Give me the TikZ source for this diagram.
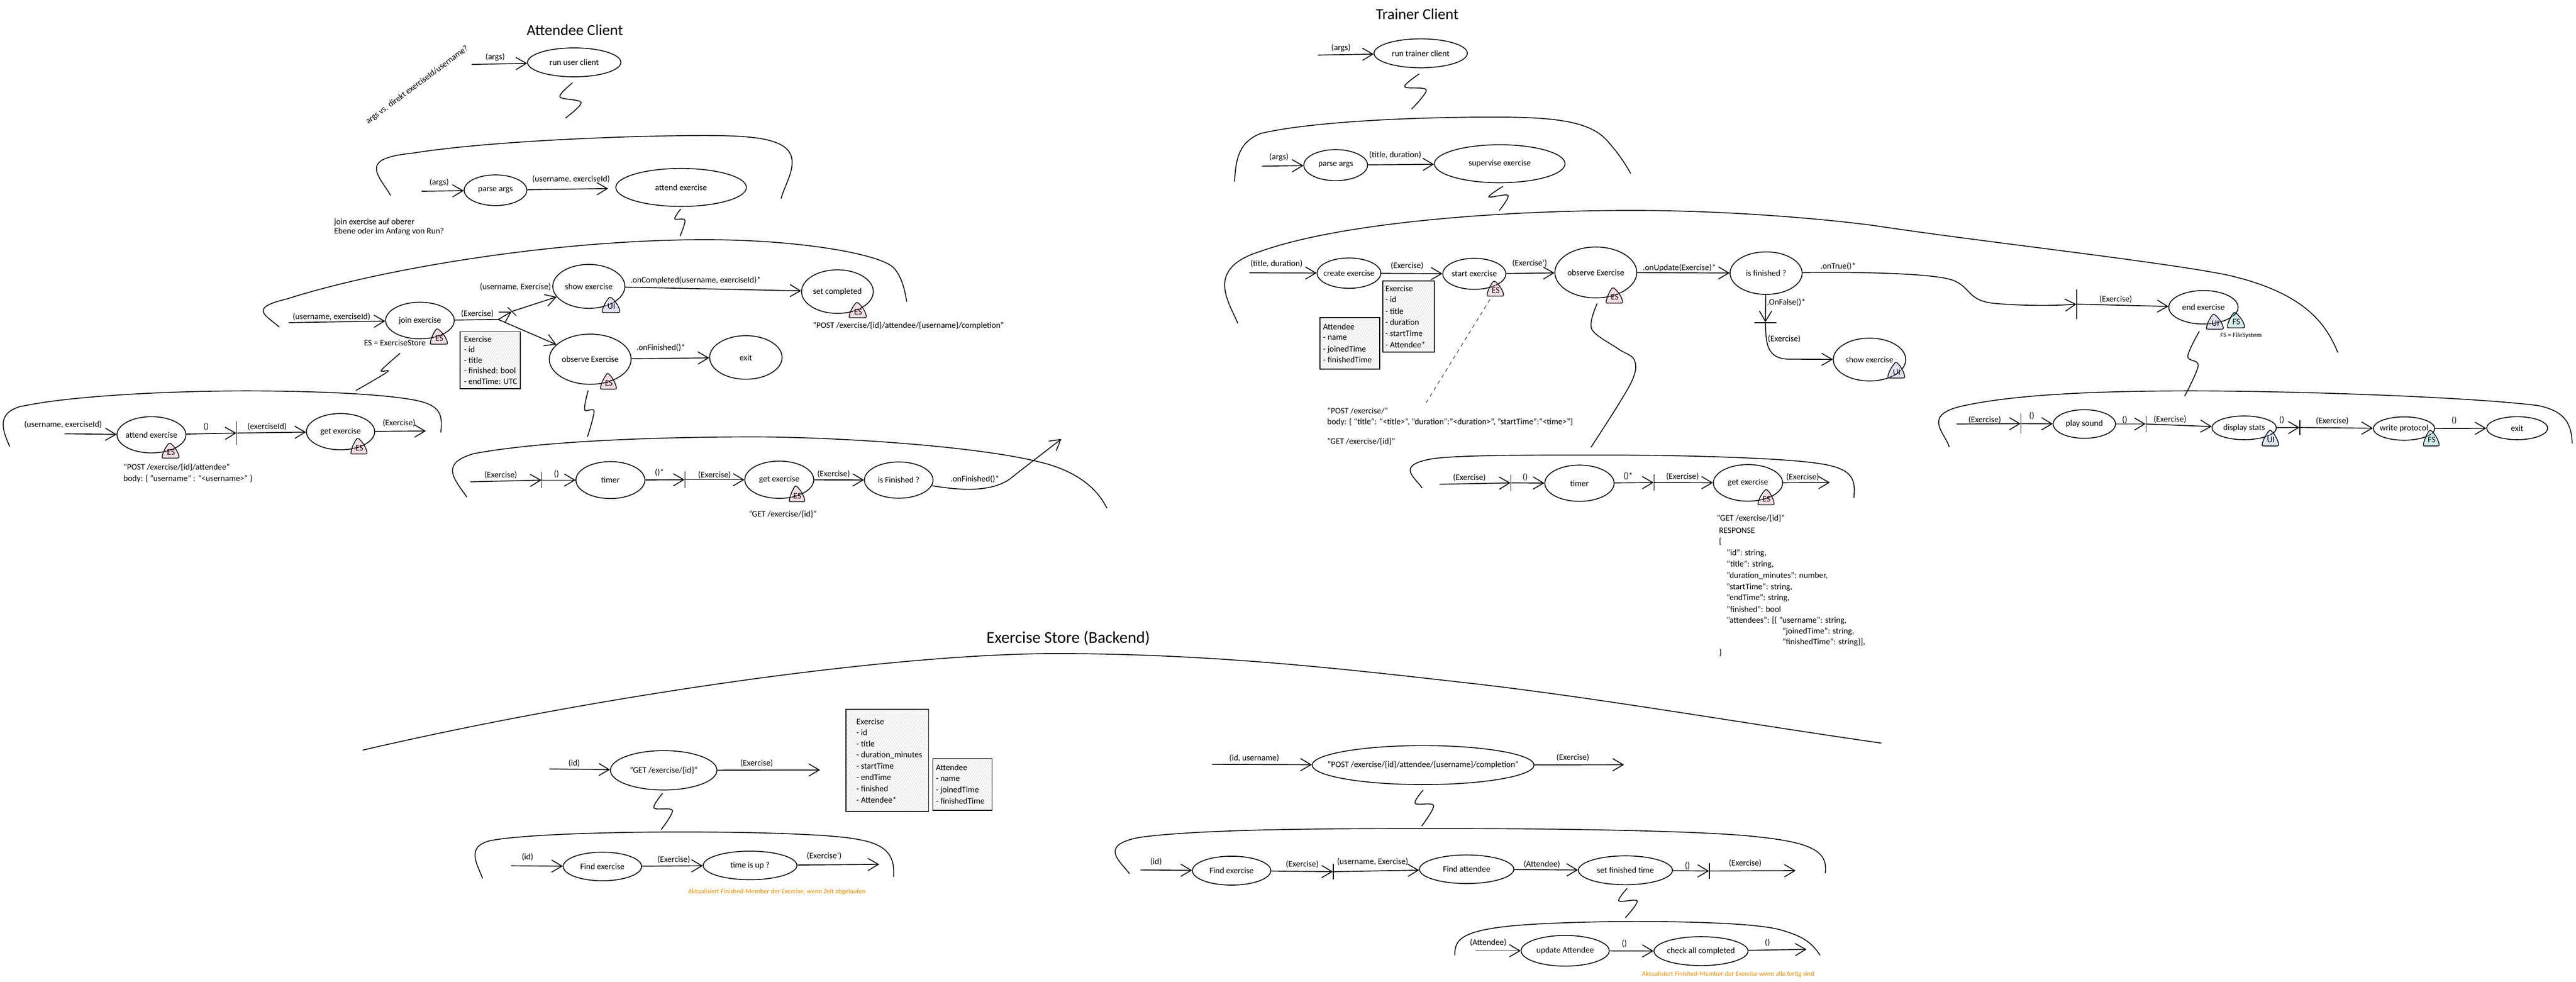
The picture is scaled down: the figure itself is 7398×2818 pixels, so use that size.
\documentclass[tikz,border=0pt]{standalone}
\usepackage{fontspec}
\setmainfont{Carlito}
\usetikzlibrary{arrows.meta,shapes.geometric,patterns.meta}
\definecolor{esd}{HTML}{F2A0B4}
\definecolor{uid}{HTML}{A0B2F0}
\definecolor{fsd}{HTML}{78D6D4}
\definecolor{bxd}{HTML}{DADDE2}
\definecolor{orng}{HTML}{F08C00}
\tikzset{
 ovl/.style={draw,ellipse,inner sep=0pt,line width=.7pt,font=\fontsize{6.9}{9}\selectfont},
 txt/.style={inner sep=0pt,font=\fontsize{6.9}{9}\selectfont},
 arr/.style={-{Straight Barb[length=8.5pt,width=10pt]},line width=.7pt},
 cv/.style={line width=.7pt},
 barn/.style={draw,rectangle,inner sep=0pt,minimum width=0pt,line width=.6pt},
 boxs/.style={draw,line width=.7pt,pattern={Lines[angle=60,distance=1.7pt,line width=.4pt]},pattern color=bxd},
}
\newcounter{lbn}
\newcommand{\myov}[6]{\node[ovl,minimum width=#4*0.01cm,minimum height=#5*0.01cm] (#1) at (#2,#3) {\makebox[0pt][c]{#6}};}
\newcommand{\mytc}[3]{\stepcounter{lbn}\node[txt] (lb\arabic{lbn}) at (#1,#2) {#3};}
\newcommand{\mytl}[3]{\stepcounter{lbn}\node[txt,anchor=west] (lb\arabic{lbn}) at (#1,#2) {#3};}
\newcommand{\myco}[3]{\coordinate (#1) at (#2,#3);}
\newcommand{\myar}[3][]{\draw[arr,#1] (#2) -- (#3);}
\newcommand{\mybar}[4]{\node[barn,minimum height=#4*0.01cm] (#1) at (#2,#3) {};}
\newcommand{\mycv}[1]{\draw[cv] plot[smooth,tension=.55] coordinates {#1};}
\newcommand{\mytag}[8]{\draw[line width=.6pt,pattern={Lines[angle=60,distance=1.7pt,line width=.45pt]},pattern color=#7d]
 (#2,#3) .. controls ({#2+6},#3) and ({#5-3},{#6-22}) .. (#5,{#6-5}) .. controls ({#5+1},#6) and ({#5-3},#6) .. ({#5-6},#6) -- ({#4+5},#6) .. controls ({#4-2},#6) and (#4,{#6-2}) .. (#4,{#6-6}) .. controls ({#4+3},{#6-22}) and ({#2-4},#3) .. (#2,#3);
 \node[txt] (#1) at ({(#4+#5)/2+1},{#6-17}) {#8};}
\begin{document}
\begin{tikzpicture}[x=0.01cm,y=-0.01cm]
\useasboundingbox (0,0) rectangle (7398,2818);
% ===== titles
\node[txt,font=\fontsize{12.5}{15}\selectfont] (tatt) at (1651,86) {Attendee Client};
\node[txt,font=\fontsize{12.5}{15}\selectfont] (ttr) at (4070,41) {Trainer Client};
\node[txt,font=\fontsize{13.5}{16}\selectfont] (tes) at (3068,1832) {Exercise Store (Backend)};
% ===== attendee: top
\myov{arun}{1649}{179}{268}{83}{run user client}
\myco{aa}{1355}{185}\myar{aa}{arun}\mytc{1422}{164}{(args)}
\mycv{(1644,238)(1608,278)(1669,294)(1624,339)}
\node[txt,rotate=36.6] (anote) at (1198,244) {args vs. direkt exerciseId/username?};
\draw[cv] (1122,561) .. controls (1085,500) and (1030,455) .. (1182,440) .. controls (1400,405) and (1800,389) .. (2025,389) .. controls (2180,389) and (2275,400) .. (2275,466) .. controls (2275,500) and (2255,530) .. (2243,570);
\myov{apar}{1423}{546}{180}{88}{parse args}
\myov{aatt}{1956}{538}{375}{109}{attend exercise}
\myco{ab}{1211}{549}\myar{ab}{apar}\mytc{1261}{523}{(args)}
\myar[shorten >=6pt]{apar}{aatt}\mytc{1640}{514}{(username, exerciseId)}
\mytl{959}{638}{join exercise auf oberer}\mytl{959}{664}{Ebene oder im Anfang von Run?}
\mycv{(1955,600)(1938,628)(1967,632)(1953,678)}
% ===== attendee: level 3
\draw[cv] (802,939) .. controls (765,905) and (710,885) .. (824,858) .. controls (1100,770) and (1600,688) .. (2025,688) .. controls (2300,688) and (2530,730) .. (2567,769) .. controls (2590,795) and (2598,830) .. (2604,866);
\myov{ajoin}{1206}{920}{197}{105}{join exercise}
\myco{ac}{829}{926}\myar{ac}{ajoin}\mytc{952}{909}{(username, exerciseId)}
\mytc{1134}{984}{ES = ExerciseStore}
\myov{ashow}{1691}{822}{207}{126}{show exercise}
\myov{aobs}{1695}{1031}{235}{144}{observe Exercise}
\myov{aset}{2405}{837}{206}{125}{set completed}
\myov{aexit}{2142}{1026}{208}{125}{exit}
\myco{abr}{1431}{917}
\draw[line width=.7pt] (ajoin) -- (abr);
\mytc{1371}{900}{(Exercise)}
\node[barn,minimum height=35*0.01cm,rotate=45] (abar) at (1470,894) {};
\myar{abr}{abar}\myar{abar}{ashow}
\myar{abr}{aobs}
\mytc{1480}{824}{(username, Exercise)}
\myar{ashow}{aset}\mytc{1998}{804}{.onCompleted(username, exerciseId)*}
\myar{aobs}{aexit}\mytc{1898}{998}{.onFinished()*}
\mytc{2609}{935}{"POST /exercise/\{id\}/attendee/\{username\}/completion"}
\draw[boxs] (1321,952) rectangle (1494,1116);
\mytl{1332}{974}{Exercise}\mytl{1332}{1003}{- id}\mytl{1332}{1034}{- title}\mytl{1332}{1064}{- finished: bool}\mytl{1332}{1094}{- endTime: UTC}
\mycv{(1149,1014)(1095,1063)(1113,1067)(1022,1121)}
\mycv{(1689,1121)(1679,1176)(1706,1180)(1687,1254)}
\mytag{tg1}{1255}{944}{1236}{1285}{988}{es}{ES}
\mytag{tg2}{1752}{853}{1730}{1780}{897}{ui}{UI}
\mytag{tg3}{2461}{868}{2439}{2488}{912}{es}{ES}
\mytag{tg4}{1745}{1072}{1725}{1770}{1117}{es}{ES}
% ===== attendee: level 4a
\draw[cv] (28,1282) .. controls (10,1240) and (-13,1190) .. (54,1168) .. controls (200,1135) and (500,1122) .. (705,1122) .. controls (950,1122) and (1150,1135) .. (1214,1154) .. controls (1270,1170) and (1270,1200) .. (1266,1241);
\myov{aat2}{435}{1248}{198}{104}{attend exercise}
\myov{aget}{978}{1239}{196}{104}{get exercise}
\mybar{bar1}{680}{1243}{68}
\myco{ad}{186}{1245}\myar{ad}{aat2}\mytc{181}{1218}{(username, exerciseId)}
\myar{aat2}{bar1}\mytc{592}{1224}{()}
\myar{bar1}{aget}\mytc{767}{1225}{(exerciseId)}
\myco{ae}{1223}{1237}\myar{aget}{ae}\mytc{1146}{1214}{(Exercise)}
\mytag{tg5}{487}{1272}{466}{514}{1315}{es}{ES}
\mytag{tg6}{1027}{1258}{1008}{1054}{1303}{es}{ES}
\mytl{354}{1342}{"POST /exercise/\{id\}/attendee"}
\mytl{354}{1374}{body: \{ "username" : "<username>" \}}
% ===== attendee: level 4b
\draw[cv] (1341,1427) .. controls (1300,1370) and (1265,1330) .. (1361,1302) .. controls (1560,1265) and (1900,1254) .. (2164,1254) .. controls (2400,1254) and (2800,1280) .. (2981,1325) .. controls (3090,1350) and (3150,1400) .. (3179,1459);
\mybar{bar2}{1556}{1378}{47}
\mybar{bar3}{1967}{1377}{48}
\myov{atim}{1753}{1378}{198}{106}{timer}
\myov{agt2}{2238}{1377}{198}{107}{get exercise}
\myov{afin}{2581}{1378}{197}{104}{is Finished ?}
\myco{af}{1351}{1383}\myar{af}{bar2}\mytc{1438}{1364}{(Exercise)}
\myar{bar2}{atim}\mytc{1598}{1360}{()}
\myar{atim}{bar3}\mytc{1894}{1356}{()*}
\myar{bar3}{agt2}\mytc{2052}{1363}{(Exercise)}
\myar{agt2}{afin}\mytc{2394}{1361}{(Exercise)}
\mytc{2800}{1376}{.onFinished()*}
\myco{ag}{3048}{1260}
\draw[arr] (afin) .. controls (2770,1410) and (2850,1410) .. (2900,1375) .. controls (2950,1335) and (3010,1290) .. (ag);
\mytag{tg7}{2285}{1395}{2267}{2311}{1440}{es}{ES}
\mytc{2248}{1476}{"GET /exercise/\{id\}"}
% ===== trainer: top
\myov{trun}{4080}{153}{268}{83}{run trainer client}
\myco{ta}{3785}{158}\myar{ta}{trun}\mytc{3851}{137}{(args)}
\mycv{(4076,212)(4034,249)(4096,258)(4054,313)}
\draw[cv] (3545,521) .. controls (3550,470) and (3550,410) .. (3621,383) .. controls (3760,350) and (4050,336) .. (4288,336) .. controls (4450,336) and (4560,345) .. (4612,400) .. controls (4640,430) and (4665,465) .. (4683,498);
\myov{tpar}{3836}{474}{183}{89}{parse args}
\myov{tsup}{4307}{470}{375}{109}{supervise exercise}
\myco{tb}{3624}{477}\myar{tb}{tpar}\mytc{3673}{451}{(args)}
\myar{tpar}{tsup}\mytc{4007}{445}{(title, duration)}
\mycv{(4316,535)(4276,565)(4331,561)(4306,604)}
% ===== trainer: level 3
\draw[cv] (3555,928) .. controls (3525,860) and (3462,770) .. (3621,721) .. controls (3850,640) and (4300,604) .. (4688,604) .. controls (5000,604) and (5300,635) .. (5400,650) .. controls (5700,695) and (6200,750) .. (6395,789) .. controls (6620,840) and (6680,930) .. (6714,1012);
\myov{tcre}{3874}{784}{183}{87}{create exercise}
\myov{tsta}{4234}{786}{181}{89}{start exercise}
\myov{tobs}{4583}{782}{235}{146}{observe Exercise}
\myov{tfin}{5072}{784}{207}{122}{is finished ?}
\myov{tend}{6328}{882}{199}{96}{end exercise}
\myov{tsho}{5369}{1032}{208}{123}{show exercise}
\myco{tc}{3588}{783}\myar{tc}{tcre}\mytc{3666}{757}{(title, duration)}
\myar{tcre}{tsta}\mytc{4041}{763}{(Exercise)}
\myar{tsta}{tobs}\mytc{4393}{755}{(Exercise')}
\myar{tobs}{tfin}\mytc{4823}{769}{.onUpdate(Exercise)*}
\mytc{5279}{764}{.onTrue()*}
\mybar{bar4}{5964}{873}{85}
\draw[arr] (tfin) .. controls (5350,780) and (5560,785) .. (5610,805) .. controls (5660,825) and (5650,860) .. (5720,870) .. controls (5800,878) and (5900,878) .. (bar4);
\myar{bar4}{tend}\mytc{6076}{859}{(Exercise)}
\node[barn,minimum height=0pt,minimum width=63*0.01cm] (bar5) at (5070,926) {};
\myar{tfin}{bar5}\mytc{5130}{868}{.OnFalse()*}
\draw[arr] (bar5) .. controls (5072,980) and (5070,1031) .. (5140,1031) -- (tsho);
\mytc{5124}{973}{(Exercise)}
\draw[boxs] (3971,806) rectangle (4119,1011);
\mytl{3978}{829}{Exercise}\mytl{3978}{860}{- id}\mytl{3978}{893}{- title}\mytl{3978}{925}{- duration}\mytl{3978}{957}{- startTime}\mytl{3978}{989}{- Attendee*}
\draw[boxs] (3791,911) rectangle (3962,1059);
\mytl{3799}{938}{Attendee}\mytl{3799}{970}{- name}\mytl{3799}{1003}{- joinedTime}\mytl{3799}{1033}{- finishedTime}
\mytag{tg8}{4291}{807}{4271}{4318}{850}{es}{ES}
\mytag{tg9}{4632}{826}{4613}{4660}{870}{es}{ES}
\mytag{tg10}{6357}{902}{6337}{6385}{945}{ui}{UI}
\mytag{tg11}{6417}{897}{6397}{6446}{941}{fs}{FS}
\mytag{tg12}{5445}{1040}{5422}{5470}{1085}{ui}{UI}
\node[txt,font=\fontsize{5.5}{7}\selectfont] (fsn) at (6436,963) {FS = FileSystem};
\myco{tda}{4093}{1160}
\draw[dash pattern=on 3pt off 3pt,line width=.35pt,shorten <=6pt] (tg8) -- (tda);
\mytl{3811}{1180}{"POST /exercise/"}
\mytl{3811}{1211}{body: \{ "title": "<title>", "duration":"<duration>", "startTime":"<time>"\}}
\mytl{3811}{1267}{"GET /exercise/\{id\}"}
\mycv{(4587,871)(4571,944)(4645,1000)(4694,1034)(4682,1103)(4569,1284)}
\mycv{(6316,951)(6283,1023)(6313,1049)(6274,1137)}
% ===== trainer: level 4
\draw[cv] (4084,1401) .. controls (4065,1370) and (4002,1335) .. (4118,1316) .. controls (4200,1306) and (4400,1306) .. (4591,1306) .. controls (4850,1306) and (5100,1315) .. (5197,1327) .. controls (5320,1340) and (5330,1370) .. (5324,1429);
\mybar{bar6}{4339}{1386}{47}
\mybar{bar7}{4750}{1385}{47}
\myov{ttim}{4536}{1387}{199}{104}{timer}
\myov{tget}{5020}{1386}{199}{105}{get exercise}
\myco{te}{4134}{1390}\myar{te}{bar6}\mytc{4220}{1371}{(Exercise)}
\myar{bar6}{ttim}\mytc{4380}{1369}{()}
\myar{ttim}{bar7}\mytc{4676}{1366}{()*}
\myar{bar7}{tget}\mytc{4832}{1368}{(Exercise)}
\myco{tf}{5255}{1385}\myar{tget}{tf}\mytc{5177}{1370}{(Exercise)}
\mytag{tg13}{5072}{1405}{5049}{5095}{1449}{es}{ES}
\mytl{4930}{1488}{"GET /exercise/\{id\}"}
\mytl{4936}{1523}{RESPONSE}
\mytl{4936}{1554}{\{}
\mytl{4958}{1588}{"id": string,}
\mytl{4958}{1620}{"title": string,}
\mytl{4958}{1653}{"duration\_minutes": number,}
\mytl{4958}{1685}{"startTime": string,}
\mytl{4958}{1716}{"endTime": string,}
\mytl{4958}{1748}{"finished": bool}
\mytl{4958}{1781}{"attendees": [\{ "username": string,}
\mytl{5118}{1812}{"joinedTime": string,}
\mytl{5118}{1844}{"finishedTime": string\}],}
\mytl{4936}{1874}{\}}
% ===== trainer: right group
\draw[cv] (5598,1283) .. controls (5585,1240) and (5516,1190) .. (5642,1164) .. controls (5800,1130) and (6050,1122) .. (6293,1122) .. controls (6600,1122) and (7100,1140) .. (7288,1164) .. controls (7370,1180) and (7385,1220) .. (7387,1273);
\mybar{bar8}{5804}{1216}{58}
\mybar{bar9}{6163}{1217}{46}
\mybar{bar10}{6605}{1227}{43}
\myov{tpla}{5986}{1217}{179}{82}{play sound}
\myov{tdis}{6445}{1228}{185}{68}{display stats}
\myov{twri}{6904}{1230}{176}{67}{write protocol}
\myov{tex}{7229}{1229}{175}{66}{exit}
\myco{tg}{5619}{1217}\myar{tg}{bar8}\mytc{5700}{1206}{(Exercise)}
\myar{bar8}{tpla}\mytc{5835}{1193}{()}
\myar{tpla}{bar9}\mytc{6102}{1205}{()}
\myar{bar9}{tdis}\mytc{6232}{1204}{(Exercise)}
\myar{tdis}{bar10}\mytc{6553}{1206}{()}
\myar{bar10}{twri}\mytc{6698}{1208}{(Exercise)}
\myar{twri}{tex}\mytc{7048}{1207}{()}
\mytag{tg14}{6519}{1235}{6497}{6544}{1280}{ui}{UI}
\mytag{tg15}{6979}{1235}{6960}{7005}{1280}{fs}{FS}
% ===== store
\draw[cv] (1042,2153) .. controls (1700,2000) and (2550,1876) .. (3034,1876) .. controls (3500,1876) and (3900,1925) .. (4239,1963) .. controls (4600,2005) and (5000,2075) .. (5403,2133);
\myov{sget}{1906}{2211}{306}{113}{"GET /exercise/\{id\}"}
\myco{sa}{1577}{2207}\myar{sa}{sget}\mytc{1649}{2190}{(id)}
\myco{sb}{2355}{2210}\myar{sget}{sb}\mytc{2173}{2190}{(Exercise)}
\draw[boxs] (2429,2036) rectangle (2667,2329);
\mytl{2459}{2071}{Exercise}\mytl{2459}{2103}{- id}\mytl{2459}{2135}{- title}\mytl{2459}{2167}{- duration\_minutes}\mytl{2459}{2199}{- startTime}\mytl{2459}{2231}{- endTime}\mytl{2459}{2263}{- finished}\mytl{2459}{2296}{- Attendee*}
\draw[boxs] (2679,2177) rectangle (2849,2326);
\mytl{2687}{2203}{Attendee}\mytl{2687}{2237}{- name}\mytl{2687}{2268}{- joinedTime}\mytl{2687}{2299}{- finishedTime}
\mycv{(1903,2277)(1878,2319)(1931,2326)(1899,2381)}
\draw[cv] (1386,2521) .. controls (1370,2480) and (1337,2430) .. (1408,2413) .. controls (1500,2395) and (1750,2388) .. (1957,2388) .. controls (2180,2388) and (2400,2395) .. (2467,2410) .. controls (2555,2425) and (2570,2465) .. (2566,2517);
\myov{sfe}{1730}{2487}{225}{82}{Find exercise}
\myov{stu}{2154}{2484}{269}{82}{time is up ?}
\myco{sc}{1468}{2485}\myar{sc}{sfe}\mytc{1515}{2460}{(id)}
\myar{sfe}{stu}\mytc{1935}{2468}{(Exercise)}
\myco{sd}{2525}{2481}\myar{stu}{sd}\mytc{2367}{2457}{(Exercise')}
\node[txt,text=orng,font=\fontsize{5.5}{7}\selectfont] (sor1) at (2231,2560) {Aktualisiert Finished-Member der Exercise, wenn Zeit abgelaufen};
% ===== store right
\myov{spo}{4087}{2196}{637}{112}{"POST /exercise/\{id\}/attendee/\{username\}/completion"}
\myco{se}{3481}{2194}\myar{se}{spo}\mytc{3602}{2176}{(id, username)}
\myco{sf}{4664}{2195}\myar{spo}{sf}\mytc{4517}{2175}{(Exercise)}
\mycv{(4087,2268)(4064,2306)(4117,2312)(4083,2371)}
\draw[cv] (3244,2508) .. controls (3215,2470) and (3153,2425) .. (3276,2403) .. controls (3450,2380) and (3800,2378) .. (4127,2378) .. controls (4500,2378) and (4850,2385) .. (5007,2398) .. controls (5200,2415) and (5250,2440) .. (5242,2506);
\mybar{bar11}{3829}{2502}{44}
\mybar{bar12}{4909}{2500}{45}
\myov{sfx}{3537}{2499}{225}{83}{Find exercise}
\myov{sfa}{4212}{2495}{271}{82}{Find attendee}
\myov{sst}{4668}{2498}{270}{83}{set finished time}
\myco{sg}{3275}{2497}\myar{sg}{sfx}\mytc{3320}{2473}{(id)}
\myar{sfx}{bar11}\mytc{3740}{2481}{(Exercise)}
\myar{bar11}{sfa}\mytc{3942}{2473}{(username, Exercise)}
\myar{sfa}{sst}\mytc{4428}{2480}{(Attendee)}
\myar{sst}{bar12}\mytc{4846}{2485}{()}
\myco{sh}{5157}{2499}\myar{bar12}{sh}\mytc{5012}{2478}{(Exercise)}
\mycv{(4673,2550)(4649,2586)(4702,2586)(4668,2634)}
\draw[cv] (4178,2742) .. controls (4178,2700) and (4190,2672) .. (4347,2657) .. controls (4450,2648) and (4600,2645) .. (4699,2645) .. controls (4850,2645) and (5040,2650) .. (5110,2668) .. controls (5170,2685) and (5200,2700) .. (5227,2742);
\myov{sup}{4495}{2729}{253}{88}{update Attendee}
\myov{sch}{4885}{2730}{270}{83}{check all completed}
\myco{si}{4238}{2729}\myar{si}{sup}\mytc{4274}{2705}{(Attendee)}
\myar{sup}{sch}\mytc{4665}{2709}{()}
\myco{sj}{5188}{2725}\myar{sch}{sj}\mytc{5076}{2706}{()}
\node[txt,text=orng,font=\fontsize{5.5}{7}\selectfont] (sor2) at (4963,2797) {Aktualisiert Finished-Member der Exercise wenn alle fertig sind};
\end{tikzpicture}
\end{document}
